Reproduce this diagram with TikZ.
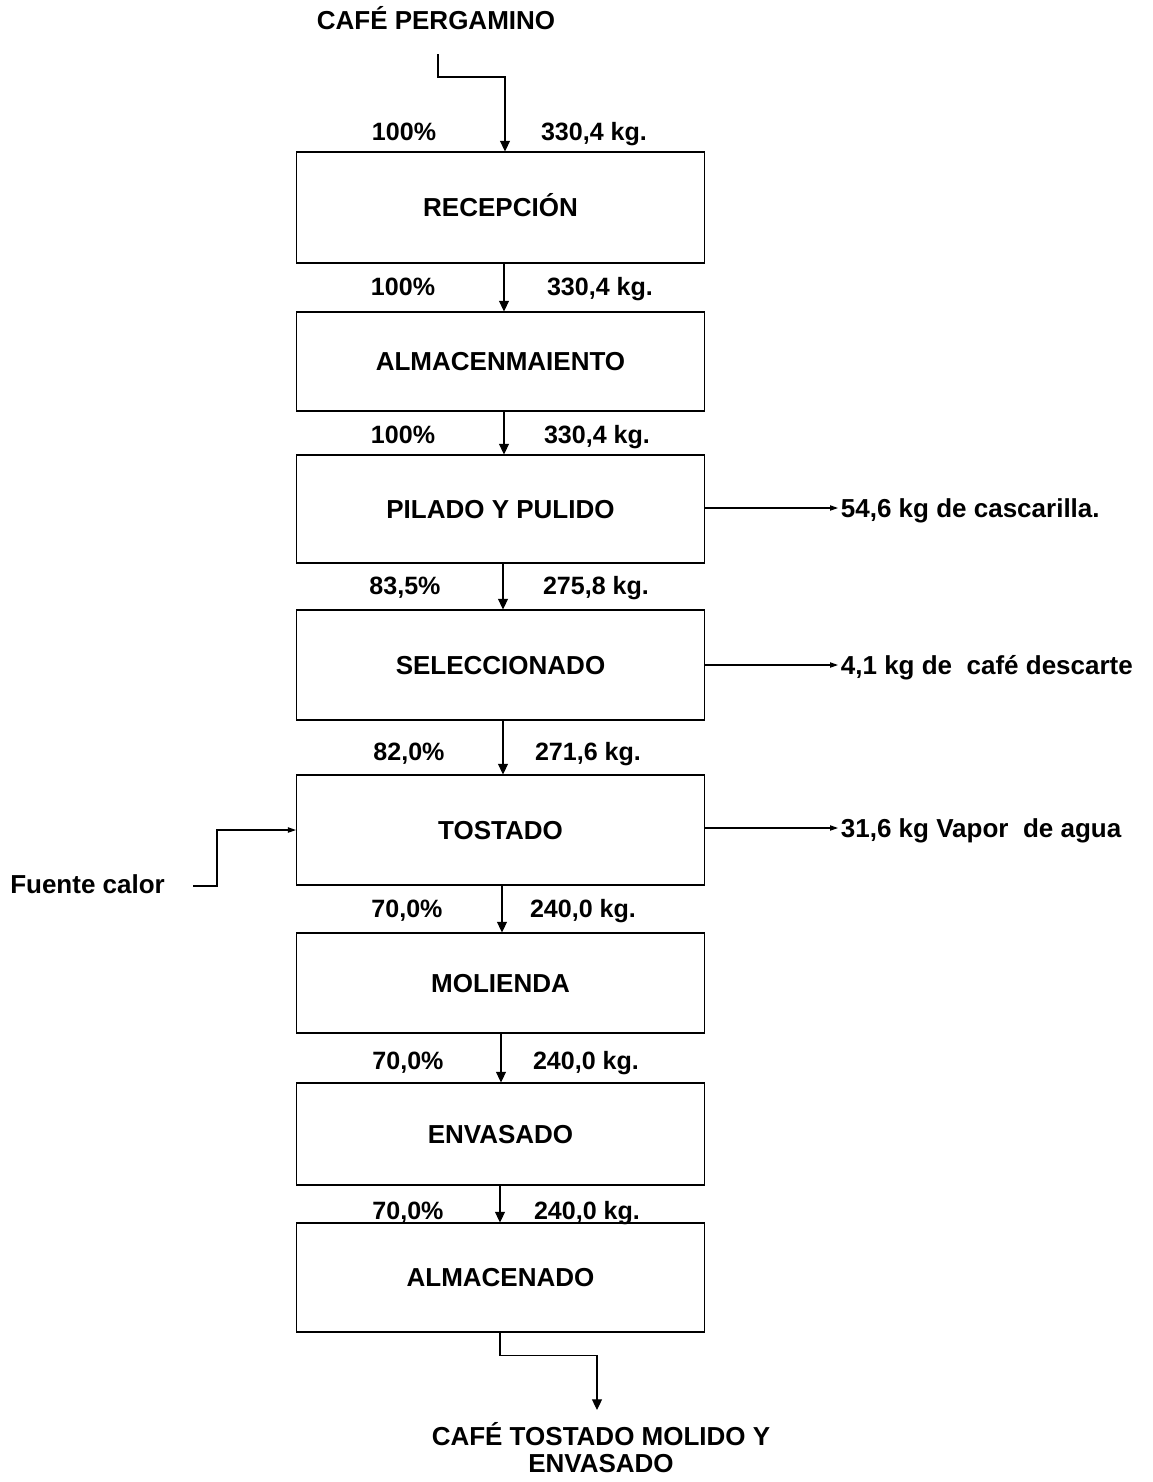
\documentclass[tikz,border=0pt]{standalone}
\usepackage{fontspec}
\setmainfont{Liberation Sans}
\usetikzlibrary{arrows.meta,calc}
\begin{document}
\begin{tikzpicture}[x=0.75pt,y=-0.75pt,
  every node/.style={font=\bfseries\fontsize{19.5}{20.5}\selectfont},
  box/.style={draw,line width=0.8pt,minimum width=306pt,inner sep=0pt,
    text height=14pt,text depth=0pt},
  flowlbl/.style={anchor=base,inner sep=0pt,font=\bfseries\fontsize{18.8}{20}\selectfont},
  sidelbl/.style={anchor=west,inner xsep=2pt,inner ysep=0pt,text height=14pt,text depth=0pt},
  flow/.style={line width=0.8pt,-{Triangle[length=8pt,width=7.5pt]}},
  side/.style={line width=0.8pt,-{Triangle[length=6pt,width=4pt]}}
]
\useasboundingbox (0,0) rectangle (1153,1482);

% process steps
\node[box,minimum height=83.25pt] (b1) at (500.5,207.5) {RECEPCIÓN};
\node[box,minimum height=74.25pt] (b2) at (500.5,361.5) {ALMACENMAIENTO};
\node[box,minimum height=81pt]    (b3) at (500.5,509)   {PILADO Y PULIDO};
\node[box,minimum height=82.5pt]  (b4) at (500.5,665)   {SELECCIONADO};
\node[box,minimum height=82.5pt]  (b5) at (500.5,830)   {TOSTADO};
\node[box,minimum height=75pt]    (b6) at (500.5,983)   {MOLIENDA};
\node[box,minimum height=76.5pt]  (b7) at (500.5,1134)  {ENVASADO};
\node[box,minimum height=81.75pt] (b8) at (500.5,1277.5){ALMACENADO};

% input and output
\node[anchor=base,inner sep=0pt] (cafe) at (436,29) {CAFÉ PERGAMINO};
\coordinate (inA) at (438,54);
\node[anchor=north,align=center,inner sep=0pt] (prod) at (601,1422)
  {CAFÉ TOSTADO MOLIDO Y\\ENVASADO};
\coordinate (outtip) at (597,1410);

% percentages and masses on each transfer
\node[flowlbl] (p1) at (404,140)  {100\%};   \node[flowlbl] (k1) at (594,140)  {330,4 kg.};
\node[flowlbl] (p2) at (403,295)  {100\%};   \node[flowlbl] (k2) at (600,295)  {330,4 kg.};
\node[flowlbl] (p3) at (403,443)  {100\%};   \node[flowlbl] (k3) at (597,443)  {330,4 kg.};
\node[flowlbl] (p4) at (405,594)  {83,5\%};  \node[flowlbl] (k4) at (596,594)  {275,8 kg.};
\node[flowlbl] (p5) at (409,760)  {82,0\%};  \node[flowlbl] (k5) at (588,760)  {271,6 kg.};
\node[flowlbl] (p6) at (407,917)  {70,0\%};  \node[flowlbl] (k6) at (583,917)  {240,0 kg.};
\node[flowlbl] (p7) at (408,1069) {70,0\%};  \node[flowlbl] (k7) at (586,1069) {240,0 kg.};
\node[flowlbl] (p8) at (408,1219) {70,0\%};  \node[flowlbl] (k8) at (587,1219) {240,0 kg.};

% by-products and heat source
\node[sidelbl] (s1) at (838,508) {54,6 kg de cascarilla.};
\node[sidelbl] (s2) at (838,665) {4,1 kg de~ café descarte};
\node[sidelbl] (s3) at (838,828) {31,6 kg Vapor~ de agua};
\node[anchor=base west,inner sep=0pt] (heat) at (10,893) {Fuente calor};
\coordinate (hA) at (193,886);

% main line
\draw[flow] (inA) -- ++(0,23) -| ($(b1.north)+(4.5,0)$);
\draw[flow] ($(b1.south)+(3.5,0)$) -- ($(b2.north)+(3.5,0)$);
\draw[flow] ($(b2.south)+(3.5,0)$) -- ($(b3.north)+(3.5,0)$);
\draw[flow] ($(b3.south)+(2.5,0)$) -- ($(b4.north)+(2.5,0)$);
\draw[flow] ($(b4.south)+(2.5,0)$) -- ($(b5.north)+(2.5,0)$);
\draw[flow] ($(b5.south)+(1.5,0)$) -- ($(b6.north)+(1.5,0)$);
\draw[flow] ($(b6.south)+(0.5,0)$) -- ($(b7.north)+(0.5,0)$);
\draw[flow] ($(b7.south)+(-0.5,0)$) -- ($(b8.north)+(-0.5,0)$);
\draw[flow] ($(b8.south)+(-0.5,0)$) -- ++(0,23) -| (outtip);

% side streams
\draw[side] (b3.east |- s1.west) -- (s1.west);
\draw[side] (b4.east |- s2.west) -- (s2.west);
\draw[side] (b5.east |- s3.west) -- (s3.west);
\draw[side] (hA) -- ++(24,0) |- (b5.west);
\end{tikzpicture}
\end{document}
